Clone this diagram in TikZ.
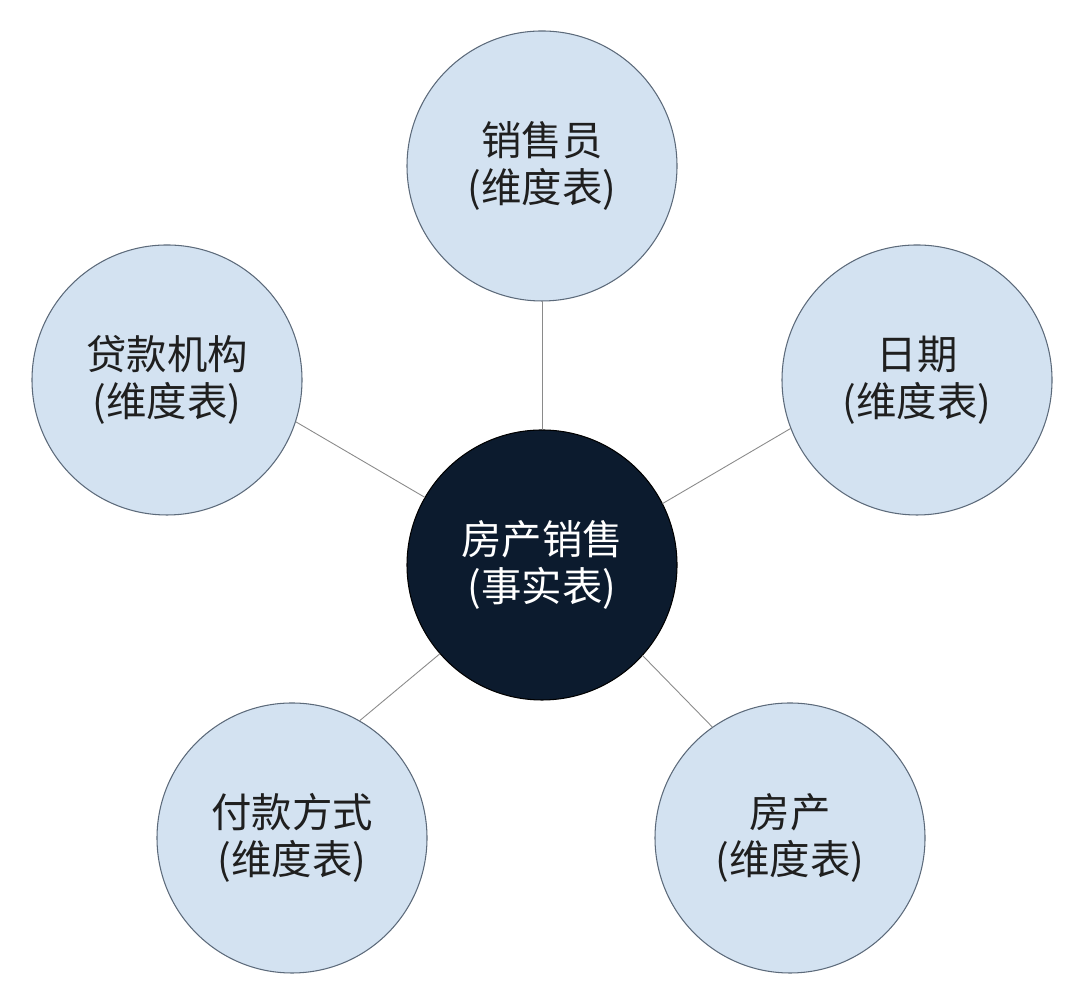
\documentclass[tikz,border=0pt]{standalone}
\usepackage{fontspec}
\setmainfont{Noto Sans CJK SC}
\definecolor{dimfill}{HTML}{D3E2F1}
\definecolor{dimline}{HTML}{5C6A7A}
\definecolor{factfill}{HTML}{0C1B2E}
\definecolor{linkgray}{HTML}{8A8A8A}
\begin{document}
\begin{tikzpicture}[font=\fontsize{23}{27}\selectfont,line join=round, line cap=round,
		dim/.style={circle,draw=dimline,line width=0.6pt,fill=dimfill,text=black!88,minimum size=5.4cm,inner sep=0pt,align=center},
		fact/.style={circle,draw=black,line width=0.6pt,fill=factfill,text=white,minimum size=5.4cm,inner sep=0pt,align=center},
		link/.style={draw=linkgray,line width=0.5pt}]
			\fill[white] (0,0) rectangle (21.68,19.84);
			\useasboundingbox (0,0) rectangle (21.68,19.84);
			\node[fact] (sale) at (10.84,8.54) {房产销售\\(事实表)};
			\node[dim] (seller) at (10.84,16.52) {销售员\\(维度表)};
			\node[dim] (loan) at (3.34,12.24) {贷款机构\\(维度表)};
			\node[dim] (date) at (18.34,12.24) {日期\\(维度表)};
			\node[dim] (pay) at (5.84,3.08) {付款方式\\(维度表)};
			\node[dim] (house) at (15.80,3.08) {房产\\(维度表)};
			\draw[link] (sale.north)--(seller.south);
			\draw[link] (sale.150)--(loan.-18);
			\draw[link] (sale.27)--(date.201);
			\draw[link] (sale.221)--(pay.60);
			\draw[link] (sale.-42)--(house.125);
	\end{tikzpicture}
\end{document}
